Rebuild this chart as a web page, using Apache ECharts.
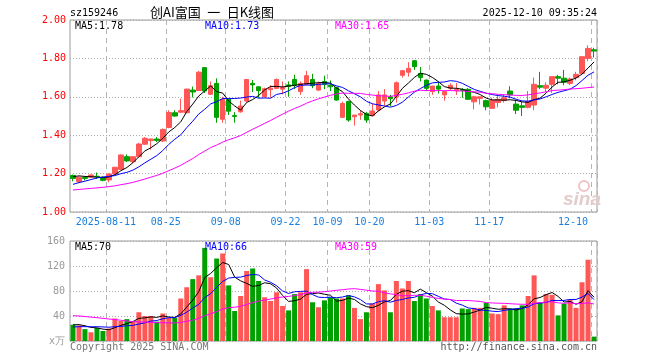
<!DOCTYPE html>
<html><head><meta charset="utf-8">
<script src="https://cdn.jsdelivr.net/npm/echarts@6/dist/echarts.min.js"></script>
<style>html,body{margin:0;padding:0;background:#fff}#c{width:660px;height:360px}</style>
</head><body><div id="c"></div>
<script>
const dates = [
 '2025-08-01','2025-08-04','2025-08-05','2025-08-06','2025-08-07','2025-08-08','2025-08-11','2025-08-12','2025-08-13','2025-08-14',
 '2025-08-15','2025-08-18','2025-08-19','2025-08-20','2025-08-21','2025-08-22','2025-08-25','2025-08-26','2025-08-27','2025-08-28',
 '2025-08-29','2025-09-01','2025-09-02','2025-09-03','2025-09-04','2025-09-05','2025-09-08','2025-09-09','2025-09-10','2025-09-11',
 '2025-09-12','2025-09-15','2025-09-16','2025-09-17','2025-09-18','2025-09-19','2025-09-22','2025-09-23','2025-09-24','2025-09-25',
 '2025-09-26','2025-09-29','2025-09-30','2025-10-09','2025-10-10','2025-10-13','2025-10-14','2025-10-15','2025-10-16','2025-10-17',
 '2025-10-20','2025-10-21','2025-10-22','2025-10-23','2025-10-24','2025-10-27','2025-10-28','2025-10-29','2025-10-30','2025-10-31',
 '2025-11-03','2025-11-04','2025-11-05','2025-11-06','2025-11-07','2025-11-10','2025-11-11','2025-11-12','2025-11-13','2025-11-14',
 '2025-11-17','2025-11-18','2025-11-19','2025-11-20','2025-11-21','2025-11-24','2025-11-25','2025-11-26','2025-11-27','2025-11-28',
 '2025-12-01','2025-12-02','2025-12-03','2025-12-04','2025-12-05','2025-12-08','2025-12-09','2025-12-10'];
const opens = [
 1.190,1.158,1.180,1.181,1.186,1.181,1.167,1.198,1.222,1.288,
 1.262,1.288,1.353,1.372,1.380,1.370,1.440,1.517,1.520,1.517,
 1.635,1.633,1.752,1.613,1.670,1.483,1.587,1.502,1.522,1.578,
 1.670,1.652,1.600,1.637,1.644,1.640,1.662,1.690,1.627,1.665,
 1.690,1.635,1.680,1.660,1.648,1.493,1.575,1.496,1.505,1.514,
 1.502,1.531,1.578,1.600,1.600,1.712,1.728,1.788,1.722,1.687,
 1.627,1.656,1.610,1.644,1.632,1.638,1.639,1.574,1.592,1.580,
 1.540,1.570,1.580,1.630,1.562,1.553,1.545,1.557,1.658,1.645,
 1.665,1.705,1.697,1.670,1.700,1.722,1.800,1.845];
const highs = [
 1.195,1.185,1.185,1.195,1.205,1.185,1.200,1.235,1.300,1.300,
 1.290,1.360,1.390,1.383,1.390,1.435,1.530,1.530,1.590,1.642,
 1.653,1.735,1.752,1.680,1.696,1.600,1.590,1.520,1.580,1.693,
 1.687,1.655,1.648,1.660,1.695,1.680,1.680,1.715,1.680,1.735,
 1.720,1.680,1.710,1.685,1.652,1.575,1.580,1.505,1.530,1.520,
 1.565,1.630,1.640,1.610,1.680,1.740,1.780,1.790,1.755,1.690,
 1.656,1.680,1.627,1.670,1.672,1.645,1.645,1.605,1.600,1.585,
 1.595,1.612,1.610,1.655,1.585,1.573,1.630,1.700,1.730,1.675,
 1.705,1.715,1.740,1.700,1.730,1.810,1.868,1.855];
const lows = [
 1.160,1.155,1.165,1.178,1.172,1.160,1.155,1.195,1.220,1.260,
 1.255,1.285,1.350,1.325,1.365,1.365,1.436,1.495,1.515,1.515,
 1.597,1.630,1.620,1.610,1.465,1.465,1.505,1.465,1.517,1.572,
 1.625,1.595,1.595,1.595,1.640,1.613,1.600,1.640,1.610,1.660,
 1.645,1.630,1.640,1.630,1.580,1.490,1.470,1.450,1.480,1.465,
 1.500,1.524,1.553,1.550,1.570,1.700,1.705,1.740,1.680,1.630,
 1.610,1.617,1.580,1.635,1.610,1.595,1.583,1.535,1.560,1.530,
 1.537,1.545,1.570,1.592,1.510,1.500,1.540,1.530,1.640,1.625,
 1.620,1.665,1.660,1.660,1.686,1.720,1.785,1.805];
const closes = [
 1.175,1.181,1.175,1.193,1.183,1.165,1.198,1.233,1.297,1.266,
 1.288,1.354,1.384,1.380,1.373,1.430,1.518,1.500,1.528,1.640,
 1.625,1.728,1.630,1.658,1.493,1.587,1.525,1.498,1.552,1.690,
 1.662,1.632,1.642,1.645,1.690,1.648,1.655,1.660,1.670,1.710,
 1.658,1.670,1.665,1.652,1.583,1.565,1.479,1.505,1.512,1.479,
 1.526,1.610,1.610,1.590,1.673,1.736,1.748,1.757,1.700,1.644,
 1.656,1.640,1.627,1.660,1.639,1.632,1.587,1.600,1.600,1.548,
 1.583,1.587,1.595,1.610,1.530,1.545,1.575,1.665,1.650,1.660,
 1.705,1.697,1.676,1.693,1.717,1.809,1.852,1.838];
const volumes = [
 26,25,19,14,21,16,20,36,32,35,
 32,46,40,40,31,44,37,37,68,86,
 99,105,149,102,132,140,89,48,72,112,
 116,96,70,64,78,56,49,75,78,115,
 62,54,65,70,68,68,73,53,35,46,
 60,91,81,46,96,84,96,64,75,68,
 56,49,38,38,38,52,51,53,53,61,
 44,43,57,52,52,57,72,105,62,75,
 74,41,60,66,53,94,130,7];
// sessions before the window (estimated so the moving averages start where the picture shows them)
const priorCloses = [1.10,1.09,1.11,1.10,1.08,1.09,1.11,1.12,1.10,1.09,1.10,1.11,1.10,1.09,1.10,1.11,1.10,1.09,1.11,1.10,
 1.09,1.10,1.11,1.10,1.12,1.16,1.19,1.20,1.195];
const priorVolumes = [42,44,46,45,48,52,62,66,70,64,55,52,50,48,46,44,42,40,38,40,20,18,17,19,20,24,28,27,25];
const labelDates = ['2025-08-11','2025-08-25','2025-09-08','2025-09-22','2025-10-09','2025-10-20','2025-11-03','2025-11-17','2025-12-10'];

const UP = '#ff5656', DOWN = '#00a000';
const MONO = '"DejaVu Sans Mono", "Liberation Mono", monospace';

function ma(prior, vals, n) {
  const all = prior.concat(vals), out = [];
  for (let i = prior.length; i < all.length; i++) {
    let s = 0; for (let k = i - n + 1; k <= i; k++) s += all[k];
    out.push(+(s / n).toFixed(4));
  }
  return out;
}
const ma5 = ma(priorCloses, closes, 5), ma10 = ma(priorCloses, closes, 10), ma30 = ma(priorCloses, closes, 30);
const vma5 = ma(priorVolumes, volumes, 5), vma10 = ma(priorVolumes, volumes, 10), vma30 = ma(priorVolumes, volumes, 30);
const kdata = dates.map((d, i) => [opens[i], closes[i], lows[i], highs[i]]);
const labelSet = new Set(labelDates);
const showIdx = (idx, val) => labelSet.has(val);
const last = a => a[a.length - 1];

const chart = echarts.init(document.getElementById('c'), null, {renderer: 'canvas'});
const gridCommon = {left: 70, width: 527, show: true, borderColor: '#9a9a9a', borderWidth: 1, backgroundColor: 'transparent'};
const vSplit = {show: true, interval: showIdx, lineStyle: {color: '#b4b4b4', type: [5, 4], width: 1}};
const hSplit = {show: true, lineStyle: {color: '#aaaaaa', type: [1, 2], width: 1}};
const lineS = (name, data, color, xi, yi) => ({name, type: 'line', data, xAxisIndex: xi, yAxisIndex: yi, showSymbol: false, symbol: 'none',
  lineStyle: {color, width: 1}, itemStyle: {color}, silent: true, z: 5});

function txt(text, x, y, fill, font, align) {
  return {type: 'text', x, y, silent: true, z: 100,
    style: {text, fill, font: font || ('10px ' + MONO), align: align || 'left', textAlign: align || 'left', verticalAlign: 'middle', textVerticalAlign: 'middle'}};
}

chart.setOption({
  animation: false,
  backgroundColor: '#fff',
  grid: [
    Object.assign({top: 20, height: 192}, gridCommon),
    Object.assign({top: 241, height: 100}, gridCommon)
  ],
  xAxis: [
    {type: 'category', gridIndex: 0, data: dates, boundaryGap: true,
     axisLine: {show: false}, axisTick: {show: false},
     axisLabel: {show: true, interval: showIdx, color: '#1a80e0', fontFamily: MONO, fontSize: 10, margin: 5,
       padding: [0, 6, 0, 0], alignMaxLabel: 'right',
       formatter: v => v === labelDates[0] ? v : v.slice(5)},
     splitLine: vSplit},
    {type: 'category', gridIndex: 1, data: dates, boundaryGap: true,
     axisLine: {show: false}, axisTick: {show: false}, axisLabel: {show: false},
     splitLine: vSplit}
  ],
  yAxis: [
    {type: 'value', gridIndex: 0, min: 1, max: 2, interval: 0.2,
     axisLine: {show: false}, axisTick: {show: false},
     axisLabel: {color: '#ff0000', fontFamily: MONO, fontSize: 10, margin: 4, formatter: v => v.toFixed(2)},
     splitLine: hSplit},
    {type: 'value', gridIndex: 1, min: 0, max: 160, interval: 40,
     axisLine: {show: false}, axisTick: {show: false},
     axisLabel: {color: '#999999', fontFamily: MONO, fontSize: 10, margin: 5, formatter: v => v === 0 ? 'x万' : String(v)},
     splitLine: hSplit}
  ],
  series: [
    {name: 'K', type: 'candlestick', data: kdata, xAxisIndex: 0, yAxisIndex: 0, barWidth: 5, silent: true,
     itemStyle: {color: UP, color0: DOWN, borderColor: UP, borderColor0: DOWN, borderWidth: 1}},
    lineS('MA5', ma5, '#000000', 0, 0),
    lineS('MA10', ma10, '#0000ff', 0, 0),
    lineS('MA30', ma30, '#ff00ff', 0, 0),
    {name: 'VOL', type: 'bar', xAxisIndex: 1, yAxisIndex: 1, barWidth: 5, silent: true,
     data: volumes.map((v, i) => ({value: v, itemStyle: {color: closes[i] >= opens[i] ? UP : DOWN}}))},
    lineS('VMA5', vma5, '#000000', 1, 1),
    lineS('VMA10', vma10, '#0000ff', 1, 1),
    lineS('VMA30', vma30, '#ff00ff', 1, 1)
  ],
  graphic: [
    txt('sz159246', 70, 13, '#000'),
    txt('创AI富国\u2002一\u2002日K线图', 150, 12, '#000', '13px "Noto Sans CJK SC", sans-serif'),
    txt('2025-12-10 09:35:24', 597, 13, '#000', null, 'right'),
    txt('MA5:' + last(ma5).toFixed(2), 75, 26, '#000'),
    txt('MA10:' + last(ma10).toFixed(2), 205, 26, '#0000ff'),
    txt('MA30:' + last(ma30).toFixed(2), 335, 26, '#ff00ff'),
    txt('MA5:' + Math.round(last(vma5)), 75, 247, '#000'),
    txt('MA10:' + Math.round(last(vma10)), 205, 247, '#0000ff'),
    txt('MA30:' + Math.round(last(vma30)), 335, 247, '#ff00ff'),
    txt('Copyright 2025 SINA.COM', 70, 347, '#777'),
    txt('http://finance.sina.com.cn', 597, 347, '#555', null, 'right'),
    {type: 'circle', shape: {cx: 584, cy: 186, r: 5}, silent: true, z: 1,
     style: {fill: 'none', stroke: '#f0c4c4', lineWidth: 2}},
    txt('sina', 563, 200, '#e3cccc', 'italic bold 19px "Liberation Sans", Arial, sans-serif')
  ]
});
</script></body></html>
